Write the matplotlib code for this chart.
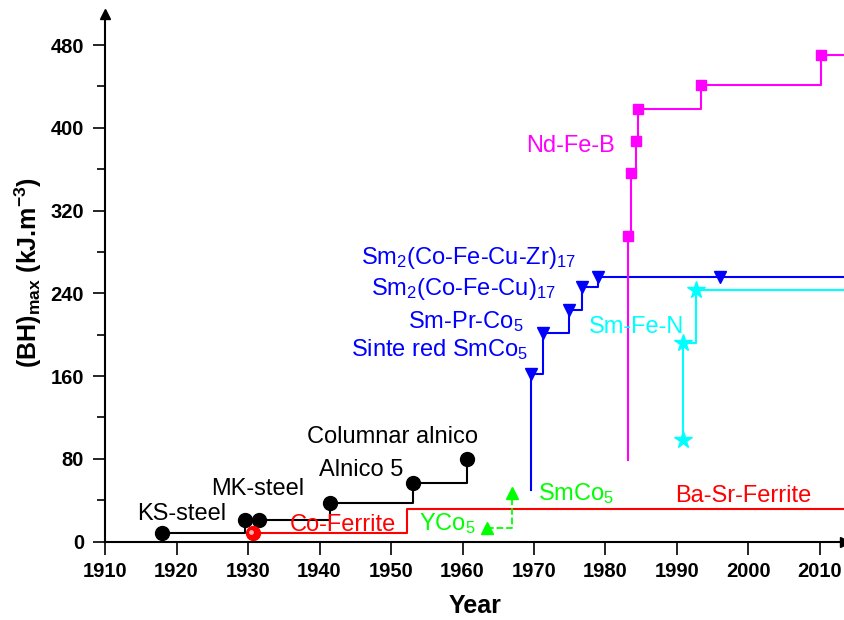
import numpy as np
import matplotlib
matplotlib.use("Agg")
import matplotlib.pyplot as plt
from matplotlib.ticker import MultipleLocator

plt.rcParams.update({"font.family": ["Liberation Sans", "DejaVu Sans"],
                     "mathtext.fontset": "custom",
                     "mathtext.rm": "Liberation Sans",
                     "mathtext.bf": "Liberation Sans:bold",
                     "mathtext.it": "Liberation Sans:italic",
                     "mathtext.default": "regular"})

# ---- data (year, (BH)max in kJ/m3) ----
steel_years = [1918, 1929.6, 1931.6, 1941.5, 1953.1, 1960.6]
steel_vals = [8, 21, 21, 37, 57, 80]

ferrite_years = [1930.7, 1952.3, 2013.5]
ferrite_vals = [8, 31, 31]

yco_years = [1963.4, 1966.9]
yco_vals = [13, 47]

smco_years = [1969.6, 1969.6, 1971.3, 1974.9, 1976.7, 1978.9, 1996.0, 2013.5]
smco_vals = [50, 162, 202, 224, 246, 256, 256, 256]

ndfeb_years = [1983.1, 1983.1, 1983.5, 1984.2, 1984.6, 1993.4, 2010.1, 2013.5]
ndfeb_vals = [79, 295, 356, 387, 418, 441, 470, 470]

smfen_years = [1990.9, 1990.9, 1992.7, 2013.5]
smfen_vals = [98, 192, 243, 243]

BLUE = "#0000ff"
MAG = "#ff00ff"
CYAN = "#00ffff"
GREEN = "#00ff00"
RED = "#ff0000"

fig = plt.figure(figsize=(8.45, 6.2), dpi=100)
ax = fig.add_axes([0.1243, 0.1266, 0.8757, 0.8508])

# black steels / alnico
ax.plot(steel_years, steel_vals, drawstyle="steps-post", color="black", lw=1.5)
ax.plot(steel_years, steel_vals, "o", color="black", ms=10, ls="none")

# ferrites
ax.plot(ferrite_years, ferrite_vals, drawstyle="steps-post", color=RED, lw=1.5)
ax.plot(ferrite_years[0], ferrite_vals[0], "o", color=RED, ms=10)
ax.plot(ferrite_years[0] - 0.25, ferrite_vals[0] + 1.2, "o", color="#ffb0b0",
        ms=3.5, mec="none")

# YCo5 -> SmCo5
ax.plot(yco_years, yco_vals, drawstyle="steps-post", color=GREEN, lw=1.3, ls="--")
ax.plot(yco_years, yco_vals, "^", color=GREEN, ms=9, ls="none")

# SmCo family
ax.plot(smco_years, smco_vals, drawstyle="steps-post", color=BLUE, lw=1.5)
ax.plot(smco_years[1:-1], smco_vals[1:-1], "v", color=BLUE, ms=9, ls="none")

# Nd-Fe-B
ax.plot(ndfeb_years, ndfeb_vals, drawstyle="steps-post", color=MAG, lw=1.5)
ax.plot(ndfeb_years[1:-1], ndfeb_vals[1:-1], "s", color=MAG, ms=7.5, ls="none")

# Sm-Fe-N
ax.plot(smfen_years, smfen_vals, drawstyle="steps-post", color=CYAN, lw=1.5)
ax.plot(smfen_years[:-1], smfen_vals[:-1], "*", color=CYAN, ms=13, ls="none")

# labels
fs = 17
ax.text(1914.5, 21, "KS-steel", fontsize=fs, va="baseline")
ax.text(1924.8, 45, "MK-steel", fontsize=fs, va="baseline")
ax.text(1939.9, 63, "Alnico 5", fontsize=fs, va="baseline")
ax.text(1938.2, 95, "Columnar alnico", fontsize=fs, va="baseline")
ax.text(1935.8, 10.6, "Co-Ferrite", fontsize=fs, va="baseline", color=RED)
ax.text(1953.9, 10.6, "YCo$_5$", fontsize=fs, va="baseline", color=GREEN)
ax.text(1970.5, 39.6, "SmCo$_5$", fontsize=fs, va="baseline", color=GREEN)
ax.text(1989.7, 38.6, "Ba-Sr-Ferrite", fontsize=fs, va="baseline", color=RED)
ax.text(1977.7, 202, "Sm-Fe-N", fontsize=fs, va="baseline", color=CYAN)
ax.text(1968.9, 377, "Nd-Fe-B", fontsize=fs, va="baseline", color=MAG)
ax.text(1975.8, 268, "Sm$_2$(Co-Fe-Cu-Zr)$_{17}$", fontsize=fs, va="baseline",
        ha="right", color=BLUE)
ax.text(1973.1, 238, "Sm$_2$(Co-Fe-Cu)$_{17}$", fontsize=fs, va="baseline",
        ha="right", color=BLUE)
ax.text(1968.5, 206, "Sm-Pr-Co$_5$", fontsize=fs, va="baseline",
        ha="right", color=BLUE)
ax.text(1969.2, 179, "Sinte red SmCo$_5$", fontsize=fs, va="baseline",
        ha="right", color=BLUE)

ax.set_xlim(1910, 2013.5)
ax.set_ylim(0, 510)
ax.xaxis.set_major_locator(MultipleLocator(10))
ax.yaxis.set_minor_locator(MultipleLocator(40))
ax.set_yticks(np.arange(0, 481, 80))
ax.tick_params(axis="both", which="major", direction="out", length=9,
               width=1.2, labelsize=14.5, pad=6)
ax.tick_params(axis="y", which="minor", direction="out", length=6, width=1.2)
for lab in ax.get_xticklabels() + ax.get_yticklabels():
    lab.set_fontweight("bold")

for s in ["top", "right"]:
    ax.spines[s].set_visible(False)
for s in ["left", "bottom"]:
    ax.spines[s].set_linewidth(1.5)

# arrow heads on the axes
ax.plot(1, 0, ">k", transform=ax.transAxes, clip_on=False, ms=7)
ax.plot(0, 1, "^k", transform=ax.transAxes, clip_on=False, ms=7)

ax.set_xlabel("Year", fontsize=18, fontweight="bold")
ax.xaxis.set_label_coords(0.5, -0.1)
ax.set_ylabel(r"(BH)$_{\mathbf{max}}$ (kJ.m$^{\mathbf{-3}}$)", fontsize=18,
              fontweight="bold")
ax.yaxis.set_label_coords(-0.082, 0.51)

fig.savefig("out.png", dpi=100)
